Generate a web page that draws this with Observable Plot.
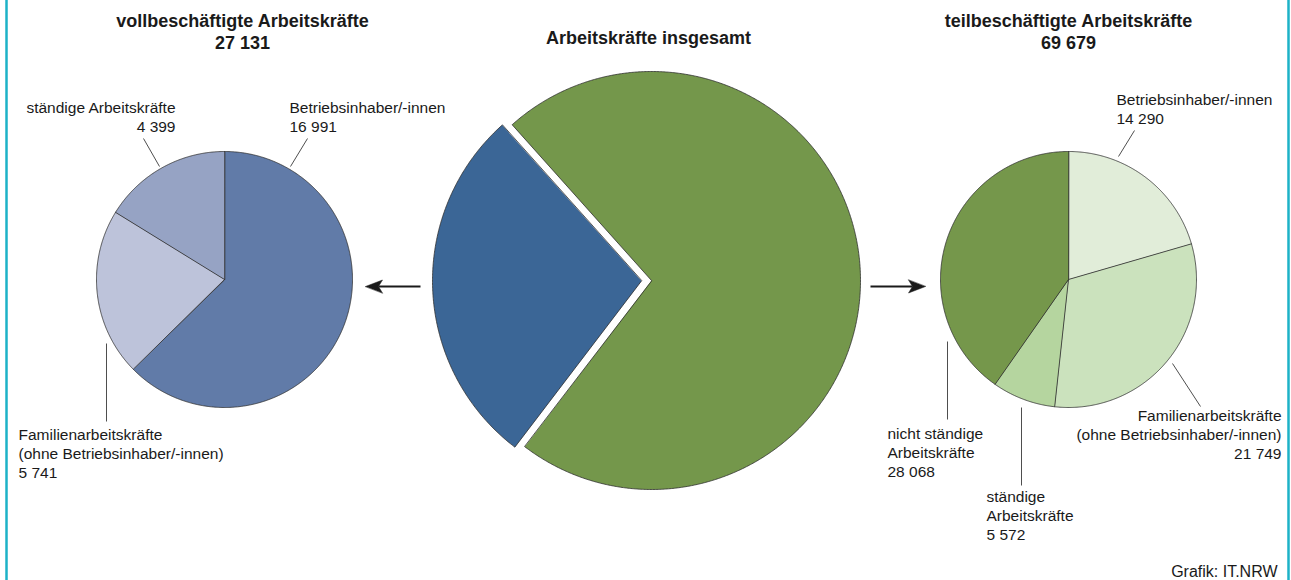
<!DOCTYPE html>
<html><head><meta charset="utf-8">
<script src="https://cdn.jsdelivr.net/npm/d3@7"></script>
<script src="https://cdn.jsdelivr.net/npm/@observablehq/plot@0.6"></script>
<style>
body{margin:0;background:#fff;}
#chart svg{display:block;}
</style>
</head><body><div id="chart"></div>
<script>
// ---------- data ----------
const totalTitle = "Arbeitskräfte insgesamt";
const totalCategories = ["vollbeschäftigte Arbeitskräfte", "teilbeschäftigte Arbeitskräfte"];
const totalValues = [27131, 69679];

const fullCategories = ["Betriebsinhaber/-innen", "Familienarbeitskräfte\n(ohne Betriebsinhaber/-innen)", "ständige Arbeitskräfte"];
const fullValues = [16991, 5741, 4399];

const partCategories = ["Betriebsinhaber/-innen", "Familienarbeitskräfte\n(ohne Betriebsinhaber/-innen)", "ständige\nArbeitskräfte", "nicht ständige\nArbeitskräfte"];
const partValues = [14290, 21749, 5572, 28068];

const credit = "Grafik: IT.NRW";

// ---------- styles / layout ----------
const totalColors = ["#3b6696", "#74974b"];
const fullColors = ["#617ba8", "#bdc3da", "#96a3c4"];
const partColors = ["#e1edd9", "#cbe2bd", "#b5d59f", "#75974b"];

const pies = {
  full:  {cx: 224, cy: 279, r: 128, start: 0},
  total: {cx: 651, cy: 280, r: 209, start: 217.3, explode: [10, 0]},
  part:  {cx: 1068, cy: 279, r: 128, start: 0}
};
// label layout: offsets from pie centre (text anchor = last baseline), leader line offsets
const fullLabelLayout = [
  {dx: 65, dy: -148, anchor: "start", leader: [66, -113, 83, -141]},
  {dx: -206, dy: 198, anchor: "start", leader: [-118, 64, -118, 142]},
  {dx: -49, dy: -148, anchor: "end", leader: [-65, -113, -81, -141]}
];
const partLabelLayout = [
  {dx: 48, dy: -156, anchor: "start", leader: [50, -123, 66, -149]},
  {dx: 213, dy: 179, anchor: "end", leader: [104, 84, 132, 127]},
  {dx: -82, dy: 260, anchor: "start", leader: [-47, 128, -47, 206]},
  {dx: -181, dy: 197, anchor: "start", leader: [-121, 62, -121, 140]}
];
const titleLayout = [
  {x: 242, y: 48}, // vollbeschäftigt
  {x: 648, y: 43}, // insgesamt
  {x: 1068, y: 48} // teilbeschäftigt
];
const arrowLayout = [
  {x1: 420, y1: 286, x2: 365, y2: 286},
  {x1: 870, y1: 286, x2: 925, y2: 286}
];

const W = 1291, H = 580;
const FONT = "'Liberation Sans', Arial, Helvetica, sans-serif";
const TXT = "#1a1a1a";
const LABEL_SIZE = 15.5, LABEL_GAP = 18.8;
const TITLE_SIZE = 18, TITLE_GAP = 22;

// ---------- helpers ----------
const deg = Math.PI / 180;
const fmt = v => String(v).replace(/\B(?=(\d{3})+(?!\d))/g, " ");

function arcs(values, startDeg) {
  const s = startDeg * deg;
  return d3.pie().sort(null).startAngle(s).endAngle(s + 2 * Math.PI)(values);
}
function polygon(arc, cx, cy, r, explode = 0) {
  const mid = (arc.startAngle + arc.endAngle) / 2;
  const ox = cx + explode * Math.sin(mid), oy = cy - explode * Math.cos(mid);
  const n = Math.max(2, Math.ceil((arc.endAngle - arc.startAngle) / (0.4 * deg)));
  const pts = [{x: ox, y: oy}];
  for (let i = 0; i <= n; i++) {
    const a = arc.startAngle + (arc.endAngle - arc.startAngle) * i / n;
    pts.push({x: ox + r * Math.sin(a), y: oy - r * Math.cos(a)});
  }
  return pts;
}
function pieMarks(values, colors, p) {
  return arcs(values, p.start).map((a, i) =>
    Plot.line(polygon(a, p.cx, p.cy, p.r, p.explode ? p.explode[i] : 0), {
      x: "x", y: "y", curve: "linear-closed",
      fill: colors[i], stroke: "#2e2e2e", strokeWidth: 0.8, strokeLinejoin: "miter"
    })
  );
}
function labelMarks(categories, values, layout, p) {
  const marks = [];
  categories.forEach((c, i) => {
    const L = layout[i];
    marks.push(Plot.link([L], {
      x1: d => p.cx + d.leader[0], y1: d => p.cy + d.leader[1],
      x2: d => p.cx + d.leader[2], y2: d => p.cy + d.leader[3],
      stroke: "#3a3a3a", strokeWidth: 0.9
    }));
    marks.push(Plot.text([{c, v: values[i]}], {
      x: () => p.cx + L.dx, y: () => p.cy + L.dy,
      text: d => d.c + "\n" + fmt(d.v),
      textAnchor: L.anchor, lineAnchor: "bottom",
      fontSize: LABEL_SIZE, lineHeight: LABEL_GAP / LABEL_SIZE, fill: TXT
    }));
  });
  return marks;
}
function arrowMarks() {
  const marks = [];
  arrowLayout.forEach(A => {
    const len = Math.hypot(A.x2 - A.x1, A.y2 - A.y1);
    const ux = (A.x2 - A.x1) / len, uy = (A.y2 - A.y1) / len;
    const px = -uy, py = ux;
    const L = 17, w = 6.5, notch = 13;
    const head = [
      {x: A.x2, y: A.y2},
      {x: A.x2 - ux * L + px * w, y: A.y2 - uy * L + py * w},
      {x: A.x2 - ux * notch, y: A.y2 - uy * notch},
      {x: A.x2 - ux * L - px * w, y: A.y2 - uy * L - py * w}
    ];
    marks.push(Plot.link([A], {
      x1: "x1", y1: "y1",
      x2: d => d.x2 - ux * notch, y2: d => d.y2 - uy * notch,
      stroke: "#1a1a1a", strokeWidth: 1.8
    }));
    marks.push(Plot.line(head, {x: "x", y: "y", curve: "linear-closed", fill: "#1a1a1a", stroke: "#1a1a1a", strokeWidth: 0.5}));
  });
  return marks;
}

const titles = [
  {t: totalCategories[0] + "\n" + fmt(totalValues[0]), ...titleLayout[0]},
  {t: totalTitle, ...titleLayout[1]},
  {t: totalCategories[1] + "\n" + fmt(totalValues[1]), ...titleLayout[2]}
];

const chart = Plot.plot({
  width: W, height: H, margin: 0,
  x: {type: "linear", domain: [0, W], range: [0, W], axis: null},
  y: {type: "linear", domain: [0, H], range: [0, H], axis: null},
  style: {fontFamily: FONT, background: "#fff", overflow: "visible"},
  marks: [
    Plot.ruleX([6, 1288], {stroke: "#1db2c7", strokeWidth: 2.5}),
    ...pieMarks(fullValues, fullColors, pies.full),
    ...pieMarks(totalValues, totalColors, pies.total),
    ...pieMarks(partValues, partColors, pies.part),
    ...labelMarks(fullCategories, fullValues, fullLabelLayout, pies.full),
    ...labelMarks(partCategories, partValues, partLabelLayout, pies.part),
    ...arrowMarks(),
    Plot.text(titles, {
      x: "x", y: "y", text: "t", textAnchor: "middle", lineAnchor: "bottom",
      fontSize: TITLE_SIZE, fontWeight: "bold", lineHeight: TITLE_GAP / TITLE_SIZE, fill: TXT
    }),
    Plot.text([credit], {
      x: () => 1277, y: () => 576, text: d => d, textAnchor: "end", lineAnchor: "bottom",
      fontSize: 16, fill: TXT
    })
  ]
});
document.getElementById("chart").appendChild(chart);
</script>
</body></html>
